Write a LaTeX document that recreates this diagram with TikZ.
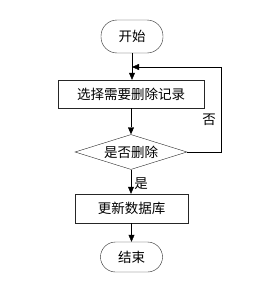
\documentclass[tikz,border=0pt]{standalone}
\usepackage{fontspec}
\setmainfont{Noto Sans CJK SC}
\usetikzlibrary{shapes.geometric,arrows.meta}
\begin{document}
\begin{tikzpicture}[x=1pt,y=-1pt,
  txt/.style={font=\fontsize{13.5}{15}\selectfont},
  term/.style={txt,draw=black!85,rounded corners=16pt,minimum width=62pt,minimum height=33pt,inner sep=0pt},
  proc/.style={txt,draw=black!85,minimum height=28pt,inner sep=0pt},
  dec/.style={txt,draw=black!85,diamond,aspect=3.2,minimum width=112pt,minimum height=35pt,inner sep=0pt},
  arr/.style={draw=black,-{Triangle[length=7pt,width=6pt]}},
  lbl/.style={txt,inner sep=0pt}]
\useasboundingbox (0,0) rectangle (271,284);
\node[term] (start) at (132,36.5) {开始};
\node[proc,minimum width=146pt] (sel) at (131,94) {选择需要删除记录};
\node[dec] (d) at (131,152) {是否删除};
\node[proc,minimum width=113pt,minimum height=29pt] (upd) at (131.5,208.5) {更新数据库};
\node[term,minimum height=30pt,rounded corners=15pt] (end) at (131.5,257) {结束};
\coordinate (c1) at (221,152);
\coordinate (c2) at (221,67);
\coordinate (c3) at (132,67);
\draw[arr] (start.south) -- (start.south |- sel.north);
\draw[arr] (sel.south) -- (sel.south |- d.north);
\draw[arr] (d.south) -- (d.south |- upd.north);
\draw[arr] (upd.south) -- (upd.south |- end.north);
\draw[arr] (d.east) -- (c1) -- (c2) -- (c3);
\node[lbl] (no) at (209,120) {否};
\node[lbl] (yes) at (141,184) {是};
\end{tikzpicture}
\end{document}
